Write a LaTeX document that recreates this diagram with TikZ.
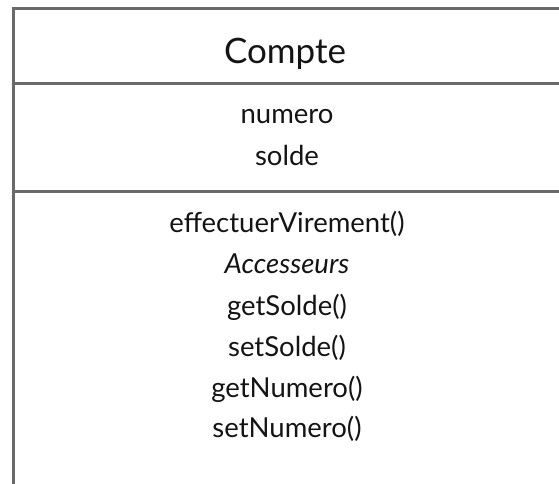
\documentclass[tikz,border=0pt]{standalone}
\usepackage{fontspec}
\setmainfont{Lato}
\definecolor{linegray}{HTML}{6A6A6A}
\definecolor{txt}{HTML}{141414}
\tikzset{
  frame/.style={draw=linegray, line width=3pt},
  title/.style={anchor=base, inner sep=0pt, text=txt, font=\fontsize{35}{35}\selectfont},
  member/.style={anchor=base, inner sep=0pt, text=txt, font=\fontsize{27.5}{27.5}\selectfont},
}
\begin{document}
\begin{tikzpicture}[x=1pt,y=-1pt]
\useasboundingbox (0,0) rectangle (559,484);
\fill[white] (0,0) rectangle (559,484);
\coordinate (tr) at (562,9);
\coordinate (tl) at (13,9);
\coordinate (bl) at (13,490);
\coordinate (s1l) at (13,84);
\coordinate (s1r) at (562,84);
\coordinate (s2l) at (13,191);
\coordinate (s2r) at (562,191);
\draw[frame] (tr) -- (tl) -- (bl);
\draw[frame] (s1l) -- (s1r);
\draw[frame] (s2l) -- (s2r);
\node[title] (name) at (285,64) {Compte};
\node[member] (a1) at (287,124) {numero};
\node[member] (a2) at (287,165) {solde};
\node[member] (m1) at (287,232) {effectuerVirement()};
\node[member] (m2) at (287,273) {\itshape Accesseurs};
\node[member] (m3) at (287,315) {getSolde()};
\node[member] (m4) at (287,356) {setSolde()};
\node[member] (m5) at (287,397) {getNumero()};
\node[member] (m6) at (287,437) {setNumero()};
\end{tikzpicture}
\end{document}
